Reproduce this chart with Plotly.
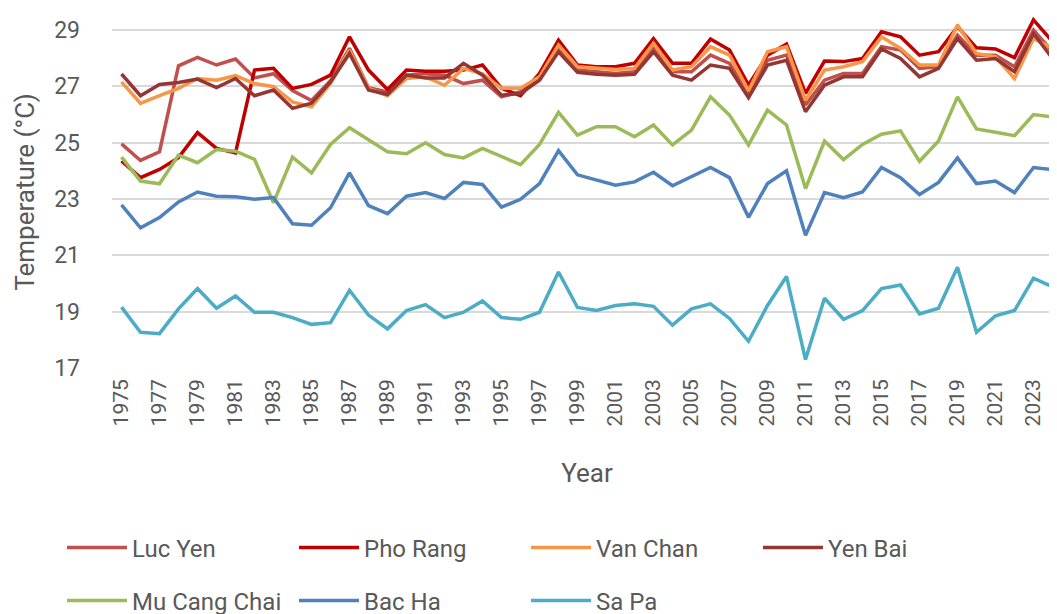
import plotly.graph_objects as go

years = list(range(1975, 2025))

luc_yen = [24.96, 24.37, 24.68, 27.73, 28.03, 27.76, 27.97, 27.30, 27.45, 26.85,
           26.50, 27.20, 28.35, 26.95, 26.80, 27.40, 27.45, 27.40, 27.10, 27.22,
           26.63, 26.81, 27.30, 28.35, 27.58, 27.52, 27.46, 27.52, 28.41, 27.52,
           27.52, 28.11, 27.82, 26.75, 27.93, 28.11, 26.34, 27.22, 27.46, 27.46,
           28.41, 28.29, 27.64, 27.70, 28.82, 28.11, 28.11, 27.70, 29.00, 28.23]
pho_rang = [24.35, 23.76, 24.05, 24.47, 25.36, 24.80, 24.64, 27.58, 27.64, 26.93,
            27.07, 27.40, 28.76, 27.58, 26.89, 27.58, 27.54, 27.54, 27.58, 27.76,
            26.93, 26.67, 27.46, 28.64, 27.76, 27.70, 27.70, 27.82, 28.70, 27.82,
            27.82, 28.68, 28.29, 27.05, 28.11, 28.50, 26.75, 27.90, 27.88, 27.99,
            28.94, 28.76, 28.11, 28.23, 29.12, 28.37, 28.33, 28.02, 29.36, 28.59]
van_chan = [27.16, 26.40, 26.67, 26.93, 27.28, 27.22, 27.38, 27.10, 26.99, 26.45,
            26.28, 27.10, 28.29, 26.93, 26.67, 27.28, 27.34, 27.04, 27.64, 27.45,
            26.93, 26.93, 27.34, 28.47, 27.70, 27.64, 27.60, 27.64, 28.53, 27.58,
            27.70, 28.41, 28.11, 26.85, 28.23, 28.41, 26.51, 27.58, 27.70, 27.88,
            28.76, 28.35, 27.76, 27.76, 29.18, 28.17, 28.05, 27.28, 28.70, 28.35]
yen_bai = [27.44, 26.67, 27.07, 27.14, 27.26, 26.96, 27.28, 26.67, 26.87, 26.22,
           26.40, 27.16, 28.17, 26.87, 26.71, 27.40, 27.30, 27.30, 27.82, 27.40,
           26.69, 26.75, 27.22, 28.23, 27.50, 27.43, 27.40, 27.43, 28.23, 27.40,
           27.22, 27.76, 27.64, 26.60, 27.76, 27.93, 26.10, 27.04, 27.34, 27.34,
           28.33, 27.99, 27.34, 27.64, 28.70, 27.93, 27.99, 27.52, 28.88, 27.99]
mu_cang_chai = [24.49, 23.64, 23.54, 24.56, 24.29, 24.76, 24.70, 24.41, 22.87, 24.49,
                23.93, 24.94, 25.53, 25.12, 24.68, 24.61, 25.00, 24.58, 24.46, 24.80,
                24.52, 24.22, 24.94, 26.08, 25.27, 25.57, 25.57, 25.21, 25.63, 24.92,
                25.45, 26.63, 25.98, 24.92, 26.16, 25.63, 23.37, 25.06, 24.40, 24.94,
                25.30, 25.42, 24.34, 25.06, 26.63, 25.49, 25.37, 25.25, 26.00, 25.92]
bac_ha = [22.79, 21.98, 22.34, 22.90, 23.25, 23.10, 23.08, 22.99, 23.05, 22.12,
          22.07, 22.69, 23.93, 22.77, 22.48, 23.10, 23.23, 23.02, 23.59, 23.52,
          22.71, 22.99, 23.55, 24.72, 23.86, 23.67, 23.49, 23.61, 23.95, 23.47,
          23.80, 24.12, 23.76, 22.35, 23.55, 24.00, 21.71, 23.23, 23.05, 23.25,
          24.12, 23.76, 23.16, 23.59, 24.46, 23.55, 23.64, 23.23, 24.12, 24.04]
sa_pa = [19.16, 18.27, 18.22, 19.10, 19.82, 19.12, 19.56, 18.98, 18.98, 18.79,
         18.55, 18.61, 19.76, 18.88, 18.39, 19.04, 19.25, 18.79, 18.98, 19.38,
         18.79, 18.73, 18.98, 20.41, 19.15, 19.04, 19.22, 19.28, 19.19, 18.52,
         19.10, 19.28, 18.76, 17.95, 19.22, 20.25, 17.30, 19.48, 18.73, 19.04,
         19.82, 19.95, 18.92, 19.12, 20.58, 18.27, 18.85, 19.04, 20.19, 19.88]

x_tick_labels = [str(y) for y in range(1975, 2024, 2)]
y_tick_values = [17, 19, 21, 23, 25, 27, 29]

series = [
    ("Luc Yen", luc_yen, "#C0504D", "legend"),
    ("Pho Rang", pho_rang, "#C00000", "legend"),
    ("Van Chan", van_chan, "#F79646", "legend"),
    ("Yen Bai", yen_bai, "#943634", "legend"),
    ("Mu Cang Chai", mu_cang_chai, "#9BBB59", "legend2"),
    ("Bac Ha", bac_ha, "#4F81BD", "legend2"),
    ("Sa Pa", sa_pa, "#4BACC6", "legend2"),
]

FONT = "Roboto, Arial, sans-serif"
GREY = "#595959"

fig = go.Figure()
for name, vals, color, lg in series:
    fig.add_trace(go.Scatter(
        x=years, y=vals, name=name, mode="lines",
        line=dict(color=color, width=3.5),
        legend=lg,
    ))

legend_common = dict(
    orientation="h",
    xref="container", yref="container",
    xanchor="left", yanchor="middle",
    font=dict(family=FONT, size=24, color=GREY),
    itemwidth=60,
    entrywidth=157,
    entrywidthmode="pixels",
    bgcolor="rgba(0,0,0,0)",
    tracegroupgap=0,
)

fig.update_layout(
    width=1057, height=614,
    margin=dict(l=104, r=3, t=8, b=254, autoexpand=False),
    paper_bgcolor="white",
    plot_bgcolor="white",
    font=dict(family=FONT, color=GREY),
    showlegend=True,
    legend=dict(x=54 / 1057, y=1 - 540 / 614, **legend_common),
    legend2=dict(x=54 / 1057, y=1 - 593 / 614, **legend_common),
    xaxis=dict(
        range=[1974.5, 2024.5],
        tickmode="array",
        tickvals=[int(t) for t in x_tick_labels],
        ticktext=x_tick_labels,
        tickangle=-90,
        tickfont=dict(family=FONT, size=21, color=GREY),
        showgrid=False,
        zeroline=False,
        showline=False,
        ticks="",
        ticklabelstandoff=6,
        title=dict(text="Year", font=dict(family=FONT, size=26, color=GREY), standoff=38),
    ),
    yaxis=dict(
        range=[17, 29.5],
        tickmode="array",
        tickvals=y_tick_values,
        tickfont=dict(family=FONT, size=23, color=GREY),
        showgrid=True,
        gridcolor="#D9D9D9",
        gridwidth=1.5,
        zeroline=False,
        showline=False,
        ticks="",
        ticklabelstandoff=31,
        title=dict(text="Temperature (°C)", font=dict(family=FONT, size=26, color=GREY), standoff=12),
    ),
)

fig.write_html("out.html")
